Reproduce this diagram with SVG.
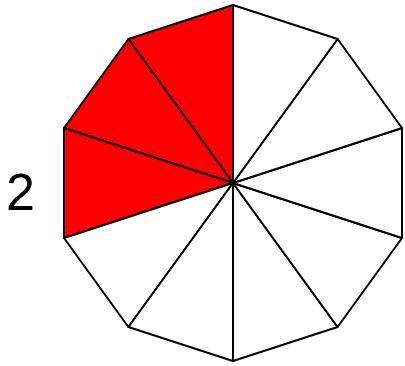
<svg xmlns="http://www.w3.org/2000/svg" width="405" height="366" viewBox="0 0 405 366">
<style>
.s{stroke:#000;stroke-width:2;stroke-linejoin:round}
.r{fill:#f00}
.w{fill:#fff}
.t{font-family:"Liberation Sans",Arial,sans-serif;font-size:52px;fill:#000}
</style>
<rect width="405" height="366" fill="#fff"/>
<g id="sectors">
<polygon id="s1" class="s r" points="233,183 233,5 128.4,39"/>
<polygon id="s2" class="s r" points="233,183 128.4,39 64,128"/>
<polygon id="s3" class="s r" points="233,183 64,128 64,238"/>
<polygon id="s4" class="s w" points="233,183 64,238 128.4,327"/>
<polygon id="s5" class="s w" points="233,183 128.4,327 233,361"/>
<polygon id="s6" class="s w" points="233,183 233,361 337.6,327"/>
<polygon id="s7" class="s w" points="233,183 337.6,327 402,238"/>
<polygon id="s8" class="s w" points="233,183 402,238 402,128"/>
<polygon id="s9" class="s w" points="233,183 402,128 337.6,39"/>
<polygon id="s10" class="s w" points="233,183 337.6,39 233,5"/>
</g>
<text id="label" class="t" x="6" y="210">2</text>
</svg>
